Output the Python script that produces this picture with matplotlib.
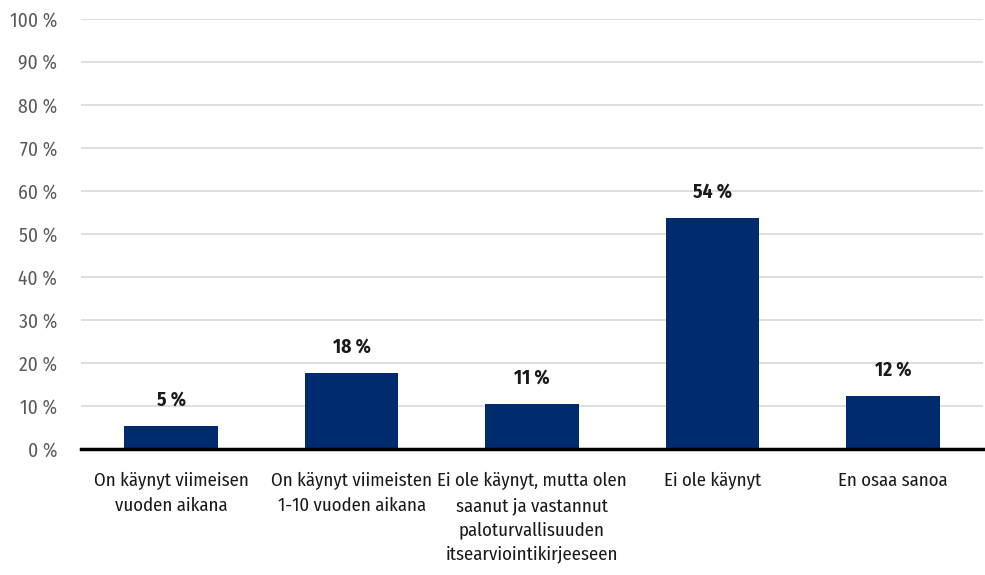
import matplotlib
matplotlib.use("Agg")
import matplotlib.pyplot as plt
from matplotlib import font_manager

# Data
categories = [
    "On käynyt viimeisen\nvuoden aikana",
    "On käynyt viimeisten\n1-10 vuoden aikana",
    "Ei ole käynyt, mutta olen\nsaanut ja vastannut\npaloturvallisuuden\nitsearviointikirjeeseen",
    "Ei ole käynyt",
    "En osaa sanoa",
]
values = [5.3, 17.6, 10.4, 53.7, 12.2]
value_labels = ["5 %", "18 %", "11 %", "54 %", "12 %"]
y_ticks = [0, 10, 20, 30, 40, 50, 60, 70, 80, 90, 100]

BAR_COLOR = "#002b6e"

# condensed font close to the original (Myriad Pro Condensed)
names = {f.name for f in font_manager.fontManager.ttflist}
prefs = ["Fira Sans Condensed", "PT Sans Narrow", "Roboto Condensed",
         "Open Sans Condensed", "Asap Condensed", "Barlow Semi Condensed"]
font = next((p for p in prefs if p in names), "DejaVu Sans")
plt.rcParams["font.family"] = [font, "DejaVu Sans"]

fig = plt.figure(figsize=(9.85, 5.75), dpi=100)
ax = fig.add_axes([0.0822, 0.2197, 0.9158, 0.7473])

x = range(len(categories))
ax.bar(x, values, width=0.52, color=BAR_COLOR, zorder=3)

for i, (v, lab) in enumerate(zip(values, value_labels)):
    ax.annotate(lab, (i, v), xytext=(0, 12), textcoords="offset points",
                ha="center", va="bottom", fontsize=14, fontweight="bold",
                color="#1a1a1a")

ax.set_xlim(-0.5, len(categories) - 0.5)
ax.set_ylim(0, 100)
ax.set_yticks(y_ticks)
ax.set_yticklabels([f"{t} %" for t in y_ticks], fontsize=14, color="#595959")
ax.set_xticks(list(x))
ax.set_xticklabels(categories, fontsize=13.5, color="#1a1a1a", linespacing=1.47,
                   va="top")
ax.tick_params(axis="y", length=0, pad=17)
ax.tick_params(axis="x", length=0, pad=17)

ax.grid(axis="y", color="#d9d9d9", linewidth=1.2, zorder=0)
for s in ["top", "right", "left"]:
    ax.spines[s].set_visible(False)
ax.spines["bottom"].set_color("black")
ax.spines["bottom"].set_linewidth(2.5)
ax.spines["bottom"].set_zorder(4)

fig.savefig("out.png", dpi=100)
